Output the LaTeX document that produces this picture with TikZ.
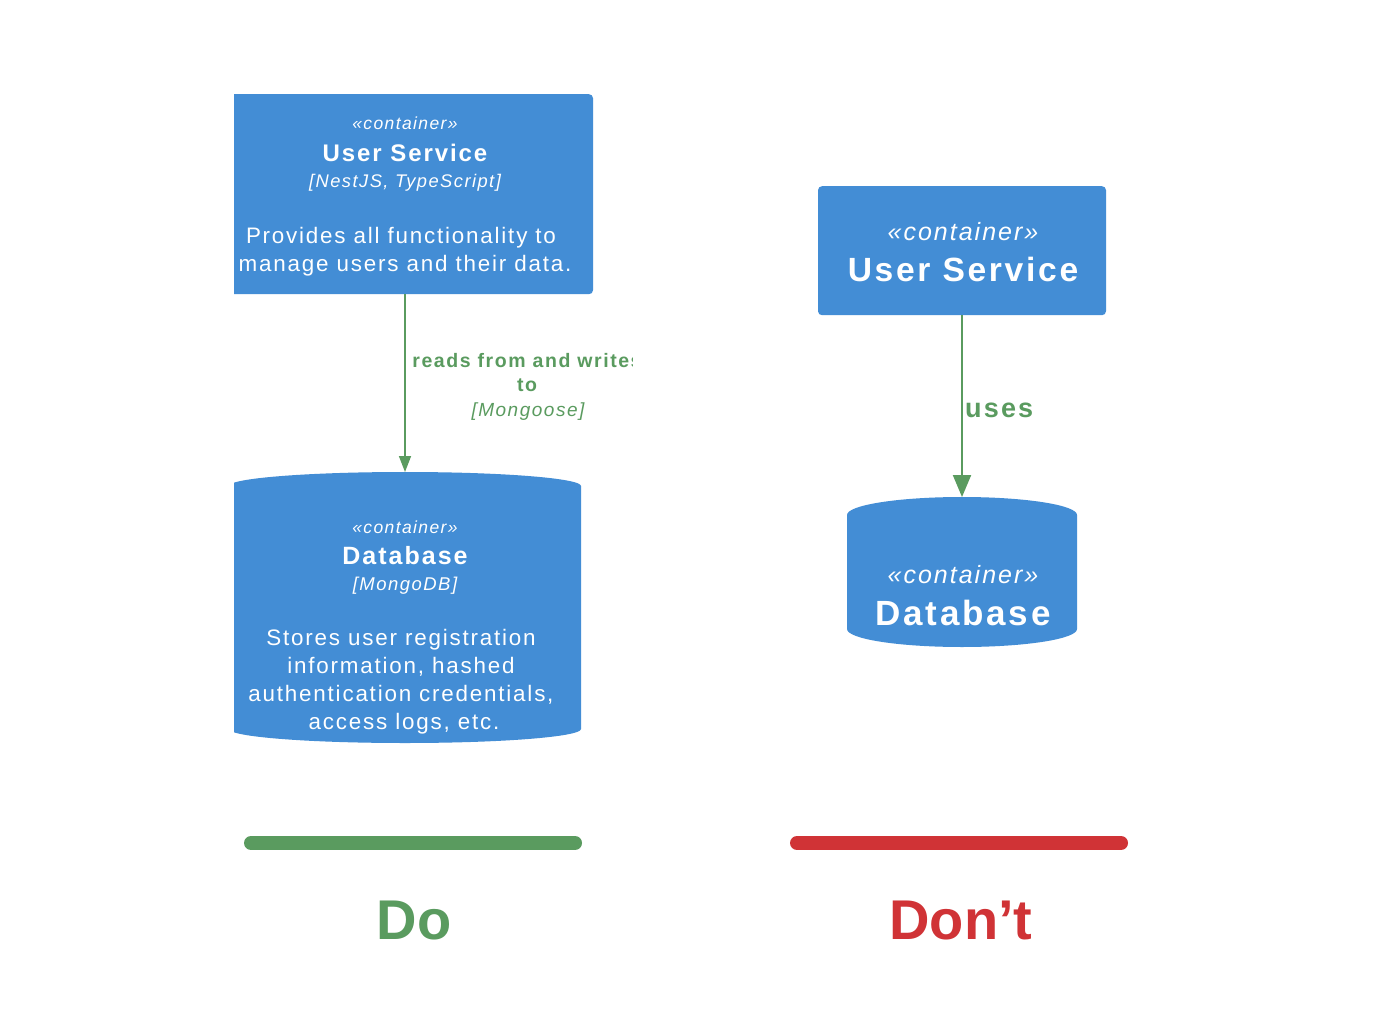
\documentclass[tikz,border=0pt]{standalone}
\usepackage{fontspec}
\setmainfont{Liberation Sans}
\newfontfamily\trk{Liberation Sans}[LetterSpace=8]
\usetikzlibrary{arrows.meta}
\definecolor{c4blue}{HTML}{438DD5}
\definecolor{dogreen}{HTML}{5A9B5F}
\definecolor{dontred}{HTML}{D03336}
\newcommand\fsz[1]{\fontsize{#1}{#1}\selectfont}
\begin{document}
\begin{tikzpicture}[x=1pt,y=-1pt,
  boxc/.style={fill=c4blue, rounded corners=4pt, inner sep=0pt, anchor=north},
  cyl/.style={fill=c4blue},
  wtxt/.style={anchor=base, inner sep=0pt, text=white},
  gtxt/.style={anchor=base, inner sep=0pt, text=dogreen},
  flowL/.style={draw=dogreen, line width=1.5pt, -{Triangle[width=12pt,length=16pt]}},
  flowR/.style={draw=dogreen, line width=2pt, -{Triangle[width=18pt,length=22pt]}},
  barline/.style={line width=14pt, line cap=round}]
\fill[white] (0,0) rectangle (1384,1030);
\useasboundingbox (0,0) rectangle (1384,1030);

% ---------- Left ("Do") ----------
\begin{scope}
\clip (234,0) rectangle (1384,1030);
\node[boxc, minimum width=376pt, minimum height=200pt] (usL) at (405,94) {};
\fill[cyl] (229,486) arc[start angle=180, end angle=0, x radius=176pt, y radius=14pt]
  -- (581,729) arc[start angle=0, end angle=-180, x radius=176pt, y radius=14pt] -- cycle;
\end{scope}
\coordinate (dbLtop) at (405,472);

\node[wtxt, font=\trk\itshape\fsz{17.5}] (usLst) at (405,130) {«container»};
\node[wtxt, font=\trk\bfseries\fsz{24}] (usLti) at (405,161) {User Service};
\node[wtxt, font=\trk\itshape\fsz{18.3}] (usLte) at (405,187) {[NestJS, TypeScript]};
\node[wtxt, font=\trk\fsz{22.4}] (usLd1) at (401,243) {Provides all functionality to};
\node[wtxt, font=\trk\fsz{22.4}] (usLd2) at (405,271) {manage users and their data.};

\node[wtxt, font=\trk\itshape\fsz{17.5}] (dbLst) at (405,533) {«container»};
\node[wtxt, font=\trk\bfseries\fsz{25}] (dbLti) at (405,564) {Database};
\node[wtxt, font=\trk\itshape\fsz{18.5}] (dbLte) at (405,590) {[MongoDB]};
\node[wtxt, font=\trk\fsz{22.4}] (dbLd1) at (401,645) {Stores user registration};
\node[wtxt, font=\trk\fsz{22.4}] (dbLd2) at (401,673) {information, hashed};
\node[wtxt, font=\trk\fsz{22.4}] (dbLd3) at (401,701) {authentication credentials,};
\node[wtxt, font=\trk\fsz{22.4}] (dbLd4) at (404,729) {access logs, etc.};

\draw[flowL] (usL.south) -- (dbLtop);

\begin{scope}
\clip (0,0) rectangle (632,1030);
\node[gtxt, font=\trk\bfseries\fsz{19.5}] (lab1) at (527,367) {reads from and writes};
\end{scope}
\node[gtxt, font=\trk\bfseries\fsz{19.5}] (lab2) at (527,391) {to};
\node[gtxt, font=\trk\itshape\fsz{19}] (lab3) at (528,416) {[Mongoose]};

% ---------- Right ("Don't") ----------
\node[boxc, minimum width=288pt, minimum height=129pt] (usR) at (962,186) {};
\fill[cyl] (847,515) arc[start angle=180, end angle=0, x radius=115pt, y radius=18pt]
  -- (1077,629) arc[start angle=0, end angle=-180, x radius=115pt, y radius=18pt] -- cycle;
\coordinate (dbRtop) at (962,497);

\node[wtxt, font=\trk\itshape\fsz{25}] (usRst) at (963,240) {«container»};
\node[wtxt, font=\trk\bfseries\fsz{33.6}] (usRti) at (963,281) {User Service};
\node[wtxt, font=\trk\itshape\fsz{25}] (dbRst) at (963,583) {«container»};
\node[wtxt, font=\trk\bfseries\fsz{35}] (dbRti) at (963,625) {Database};

\draw[flowR] (usR.south) -- (dbRtop);
\node[gtxt, font=\trk\bfseries\fsz{27}, anchor=base west] (uses) at (965,417) {uses};

% ---------- Bars and captions ----------
\coordinate (gbA) at (251,843); \coordinate (gbB) at (575,843);
\coordinate (rbA) at (797,843); \coordinate (rbB) at (1121,843);
\draw[barline, dogreen] (gbA) -- (gbB);
\draw[barline, dontred] (rbA) -- (rbB);
\node[anchor=base, inner sep=0pt, text=dogreen, font=\bfseries\fsz{56}] (doT) at (414,939) {Do};
\node[anchor=base, inner sep=0pt, text=dontred, font=\bfseries\fsz{56}] (dontT) at (961,939) {Don’t};
\end{tikzpicture}
\end{document}
